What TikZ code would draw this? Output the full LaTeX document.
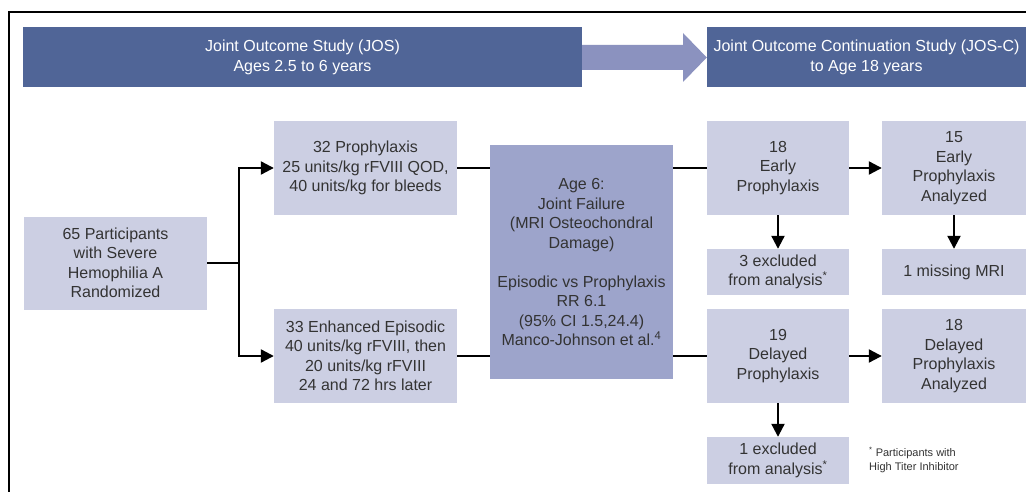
\documentclass[tikz,border=0pt]{standalone}
\usepackage{fontspec}
\setmainfont{Liberation Sans}
\usetikzlibrary{arrows.meta}
\definecolor{bannerblue}{HTML}{506597}
\definecolor{arrowblue}{HTML}{8B92BF}
\definecolor{boxlight}{HTML}{CCCFE3}
\definecolor{boxmid}{HTML}{9DA4CB}
\definecolor{txtgray}{HTML}{333333}
\tikzset{
  box/.style={rectangle, fill=boxlight, inner sep=0pt, align=center, text=txtgray,
    font=\fontsize{16}{19.5}\selectfont},
  midbox/.style={box, fill=boxmid},
  banner/.style={rectangle, fill=bannerblue, inner sep=0pt, align=center, text=white,
    font=\fontsize{16}{20}\selectfont},
  conn/.style={line width=2.2pt, draw=black},
  arr/.style={conn, -{Triangle[length=13pt,width=13pt]}},
  note/.style={inner sep=0pt, align=left, text=txtgray, font=\fontsize{11}{14}\selectfont}
}
\begin{document}
\begin{tikzpicture}[x=1pt,y=-1pt]
\useasboundingbox (0,0) rectangle (1026,492);
\fill[white] (0,0) rectangle (1026,492);
% frame
\draw[line width=2pt] (9,492) -- (9,12) -- (1026,12);
% banners
\node[banner, minimum width=559pt, minimum height=60pt] (jos) at (302.5,57)
  {Joint Outcome Study (JOS)\\Ages 2.5 to 6 years};
\node[banner, minimum width=319pt, minimum height=60pt] (josc) at (866.5,57)
  {Joint Outcome Continuation Study (JOS-C)\\to Age 18 years};
\fill[arrowblue] (jos.east |- 0,45) -- (683,45) -- (683,33) -- (josc.west |- 0,57.5)
  -- (683,82) -- (683,70) -- (jos.east |- 0,70) -- cycle;
% boxes
\node[box, minimum width=183pt, minimum height=93pt] (p65) at (115.5,263)
  {65 Participants\\with Severe\\Hemophilia A\\Randomized};
\node[box, minimum width=183pt, minimum height=94pt] (pro32) at (365.5,168)
  {32 Prophylaxis\\25 units/kg rFVIII QOD,\\40 units/kg for bleeds};
\node[box, minimum width=183pt, minimum height=94pt] (epi33) at (365.5,356)
  {33 Enhanced Episodic\\40 units/kg rFVIII, then\\20 units/kg rFVIII\\24 and 72 hrs later};
\node[midbox, minimum width=183pt, minimum height=234pt] (ctr) at (581.5,262)
  {Age 6:\\Joint Failure\\(MRI Osteochondral\\Damage)\\[19.5pt]Episodic vs Prophylaxis\\RR 6.1\\(95\% CI 1.5,24.4)\\Manco-Johnson et al.\textsuperscript{4}};
\node[box, minimum width=142pt, minimum height=94pt] (early18) at (778,168)
  {18\\Early\\Prophylaxis};
\node[box, minimum width=144pt, minimum height=94pt] (ana15) at (954,168)
  {15\\Early\\Prophylaxis\\Analyzed};
\node[box, minimum width=142pt, minimum height=46pt] (exc3) at (778,272)
  {3 excluded\\from analysis\textsuperscript{*}};
\node[box, minimum width=144pt, minimum height=46pt] (miss1) at (954,272)
  {1 missing MRI};
\node[box, minimum width=142pt, minimum height=94pt] (del19) at (778,356)
  {19\\Delayed\\Prophylaxis};
\node[box, minimum width=144pt, minimum height=94pt] (ana18) at (954,356)
  {18\\Delayed\\Prophylaxis\\Analyzed};
\node[box, minimum width=142pt, minimum height=47pt] (exc1) at (778,460.5)
  {1 excluded\\from analysis\textsuperscript{*}};
\node[note, anchor=west] (fn) at (869,460)
  {\textsuperscript{*} Participants with\\High Titer Inhibitor};
% connectors
\coordinate (split) at (239,263);
\draw[conn] (p65.east) -- (split);
\draw[arr] (split) |- (pro32.west);
\draw[arr] (split) |- (epi33.west);
\draw[conn] (pro32.east) -- (pro32.east -| ctr.west);
\draw[conn] (epi33.east) -- (epi33.east -| ctr.west);
\draw[conn] (early18.west -| ctr.east) -- (early18.west);
\draw[conn] (del19.west -| ctr.east) -- (del19.west);
\draw[arr] (early18.east) -- (ana15.west);
\draw[arr] (del19.east) -- (ana18.west);
\draw[arr] (early18.south) -- (exc3.north);
\draw[arr] (ana15.south) -- (miss1.north);
\draw[arr] (del19.south) -- (exc1.north);
\end{tikzpicture}
\end{document}
